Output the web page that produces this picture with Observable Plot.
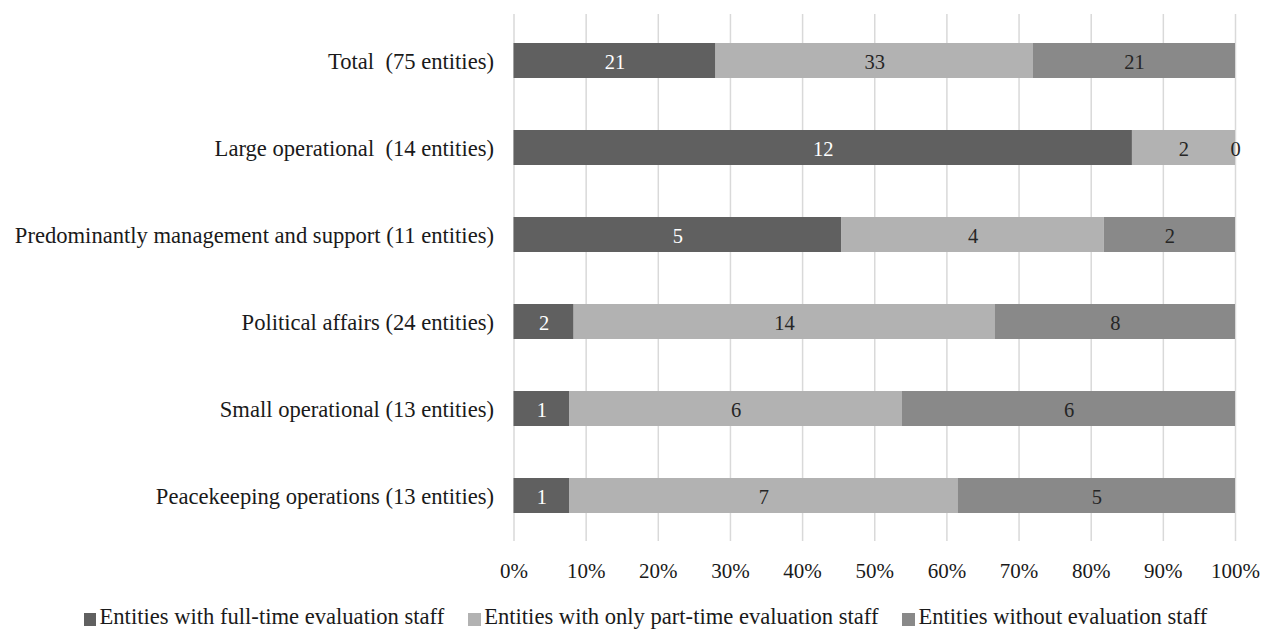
<!DOCTYPE html>
<html>
<head>
<meta charset="utf-8">
<script src="https://cdn.jsdelivr.net/npm/d3@7"></script>
<script src="https://cdn.jsdelivr.net/npm/@observablehq/plot@0.6"></script>
<style>
  html, body { margin: 0; padding: 0; background: #fff; }
  #wrap { position: relative; width: 1261px; height: 629px; font-family: "Liberation Serif", "Times New Roman", serif; }
  #wrap svg text { white-space: pre; }
  .legend { position: absolute; left: 83.5px; top: 606px; display: flex; gap: 24px; font-size: 22.6px; line-height: 1; color: #1a1a1a; }
  .legend .item { display: flex; align-items: flex-start; white-space: nowrap; }
  .legend .sw { width: 12.5px; height: 12.5px; margin-top: 7px; margin-right: 3.5px; }
</style>
</head>
<body>
<div id="wrap"></div>
<script>
// Entity groups (top to bottom) and counts per staffing category
const categories = [
  "Total  (75 entities)",
  "Large operational  (14 entities)",
  "Predominantly management and support (11 entities)",
  "Political affairs (24 entities)",
  "Small operational (13 entities)",
  "Peacekeeping operations (13 entities)"
];
const series = [
  "Entities with full-time evaluation staff",
  "Entities with only part-time evaluation staff",
  "Entities without evaluation staff"
];
const fullTime = [21, 12, 5, 2, 1, 1];
const partTime = [33, 2, 4, 14, 6, 7];
const without  = [21, 0, 2, 8, 6, 5];
const colors = ["#606060", "#b2b2b2", "#898989"];
const xTicks = [0, 0.1, 0.2, 0.3, 0.4, 0.5, 0.6, 0.7, 0.8, 0.9, 1];

const seriesValues = [fullTime, partTime, without];
const rows = categories.flatMap((category, i) =>
  series.map((s, j) => ({category, series: s, value: seriesValues[j][i]}))
);

const stackOpts = {x: "value", y: "category", z: "series", offset: "normalize"};

const chart = Plot.plot({
  width: 1261,
  height: 590,
  marginLeft: 513.5,
  marginRight: 26,
  marginTop: 14,
  marginBottom: 49,
  style: {fontFamily: "'Liberation Serif', 'Times New Roman', serif", background: "white", color: "#1a1a1a"},
  x: {domain: [0, 1]},
  y: {domain: categories, paddingInner: 0.6, paddingOuter: 0.3},
  color: {domain: series, range: colors},
  marks: [
    Plot.ruleX(xTicks, {stroke: "#d9d9d9", strokeWidth: 1.5}),
    Plot.barX(rows, Plot.stackX({...stackOpts, fill: "series", insetLeft: 0, insetRight: 0})),
    Plot.textX(rows, Plot.stackX({
      ...stackOpts,
      text: d => d.series === series[0] ? String(d.value) : null,
      fill: "white", fontSize: 20.5, dy: 1.5
    })),
    Plot.textX(rows, Plot.stackX({
      ...stackOpts,
      text: d => d.series !== series[0] ? String(d.value) : null,
      fill: "#262626", fontSize: 20.5, dy: 1.5
    })),
    Plot.axisX({ticks: xTicks, tickSize: 0, tickPadding: 21.5, fontSize: 21, label: null, tickFormat: d3.format(".0%")}),
    Plot.axisY({tickSize: 0, tickPadding: 20, fontSize: 22.6, dy: 1, label: null})
  ]
});

const wrap = document.getElementById("wrap");
wrap.appendChild(chart);

// Legend below the plot
const legend = document.createElement("div");
legend.className = "legend";
series.forEach((s, i) => {
  const item = document.createElement("div");
  item.className = "item";
  const sw = document.createElement("span");
  sw.className = "sw";
  sw.style.background = colors[i];
  const label = document.createElement("span");
  label.textContent = s;
  item.appendChild(sw);
  item.appendChild(label);
  legend.appendChild(item);
});
wrap.appendChild(legend);
</script>
</body>
</html>
